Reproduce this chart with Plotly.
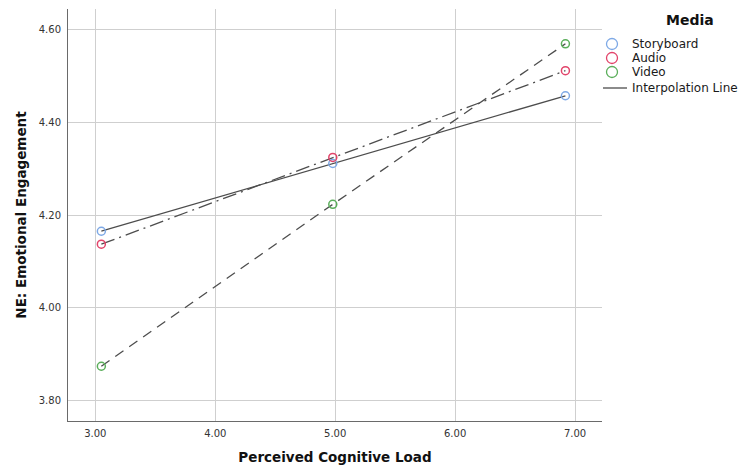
import plotly.graph_objects as go

# Group means of emotional engagement at each level of perceived cognitive load
media = ["Storyboard", "Audio", "Video"]
load_x = {
    "Storyboard": [3.05, 4.98, 6.92],
    "Audio": [3.05, 4.98, 6.92],
    "Video": [3.05, 4.98, 6.92],
}
engagement_y = {
    "Storyboard": [4.165, 4.311, 4.457],
    "Audio": [4.137, 4.324, 4.511],
    "Video": [3.874, 4.223, 4.569],
}
marker_colors = {"Storyboard": "#7ea9e6", "Audio": "#e2446a", "Video": "#5aae5a"}
line_dash = {"Storyboard": "solid", "Audio": "14px,5px,2px,5px", "Video": "10px,7px"}
x_ticks = [3.0, 4.0, 5.0, 6.0, 7.0]
y_ticks = [3.8, 4.0, 4.2, 4.4, 4.6]

FONT = "DejaVu Sans"
LINE_COLOR = "#4d4d4d"
W, H = 738, 473
ML, MR, MT, MB = 68, 136, 9, 52


def px_x(p):
    """Pixel column -> paper x."""
    return (p - ML) / (W - ML - MR)


def px_y(p):
    """Pixel row -> paper y."""
    return (H - MB - p) / (H - MT - MB)


fig = go.Figure()

# interpolation lines per group
for m in media:
    fig.add_trace(go.Scatter(
        x=load_x[m], y=engagement_y[m], mode="lines",
        line=dict(color=LINE_COLOR, width=1.3, dash=line_dash[m]),
        showlegend=False, hoverinfo="skip",
    ))

# group markers
for m in media:
    fig.add_trace(go.Scatter(
        x=load_x[m], y=engagement_y[m], mode="markers", name=m,
        marker=dict(symbol="circle-open", size=8, color=marker_colors[m],
                    line=dict(width=1.5, color=marker_colors[m])),
        showlegend=False,
    ))

# legend block drawn beside the plot
shapes = []
annotations = [dict(
    text="<b>Media</b>", x=px_x(690), y=px_y(20), xref="paper", yref="paper",
    xanchor="center", yanchor="middle", showarrow=False,
    font=dict(family=FONT, size=14, color="#111"),
)]
legend_rows = [44, 58, 72]
for m, row in zip(media, legend_rows):
    shapes.append(dict(
        type="circle", xref="paper", yref="paper",
        xsizemode="pixel", ysizemode="pixel",
        xanchor=px_x(612), yanchor=px_y(row),
        x0=-5.5, x1=5.5, y0=-5.5, y1=5.5,
        line=dict(color=marker_colors[m], width=1.3),
    ))
    annotations.append(dict(
        text=m, x=px_x(630), y=px_y(row), xref="paper", yref="paper",
        xanchor="left", yanchor="middle", showarrow=False,
        font=dict(family=FONT, size=12, color="#1a1a1a"),
    ))
shapes.append(dict(
    type="line", xref="paper", yref="paper",
    x0=px_x(603), x1=px_x(627), y0=px_y(88), y1=px_y(88),
    line=dict(color=LINE_COLOR, width=1.3),
))
annotations.append(dict(
    text="Interpolation Line", x=px_x(630), y=px_y(88), xref="paper", yref="paper",
    xanchor="left", yanchor="middle", showarrow=False,
    font=dict(family=FONT, size=12, color="#1a1a1a"),
))

fig.update_layout(
    width=W, height=H,
    margin=dict(l=ML, r=MR, t=MT, b=MB, autoexpand=False),
    paper_bgcolor="white", plot_bgcolor="white",
    font=dict(family=FONT, size=11, color="#222"),
    showlegend=False,
    shapes=shapes, annotations=annotations,
    xaxis=dict(
        range=[2.772, 7.225], tickvals=x_ticks,
        ticktext=[f"{v:.2f}" for v in x_ticks],
        showgrid=True, gridcolor="#cfcfcf", gridwidth=1,
        zeroline=False, showline=True, linecolor="#6a6a6a", linewidth=1,
        ticks="", ticklabelstandoff=3,
        tickfont=dict(family=FONT, size=10, color="#333"),
        title=dict(text="<b>Perceived Cognitive Load</b>",
                   font=dict(family=FONT, size=13.5, color="#111"), standoff=14),
    ),
    yaxis=dict(
        range=[3.756, 4.644], tickvals=y_ticks,
        ticktext=[f"{v:.2f}" for v in y_ticks],
        showgrid=True, gridcolor="#cfcfcf", gridwidth=1,
        zeroline=False, showline=True, linecolor="#6a6a6a", linewidth=1,
        ticks="", ticklabelstandoff=4,
        tickfont=dict(family=FONT, size=10, color="#333"),
        title=dict(text="<b>NE: Emotional Engagement</b>",
                   font=dict(family=FONT, size=13.5, color="#111"), standoff=9),
    ),
)

fig.write_html("out.html")
